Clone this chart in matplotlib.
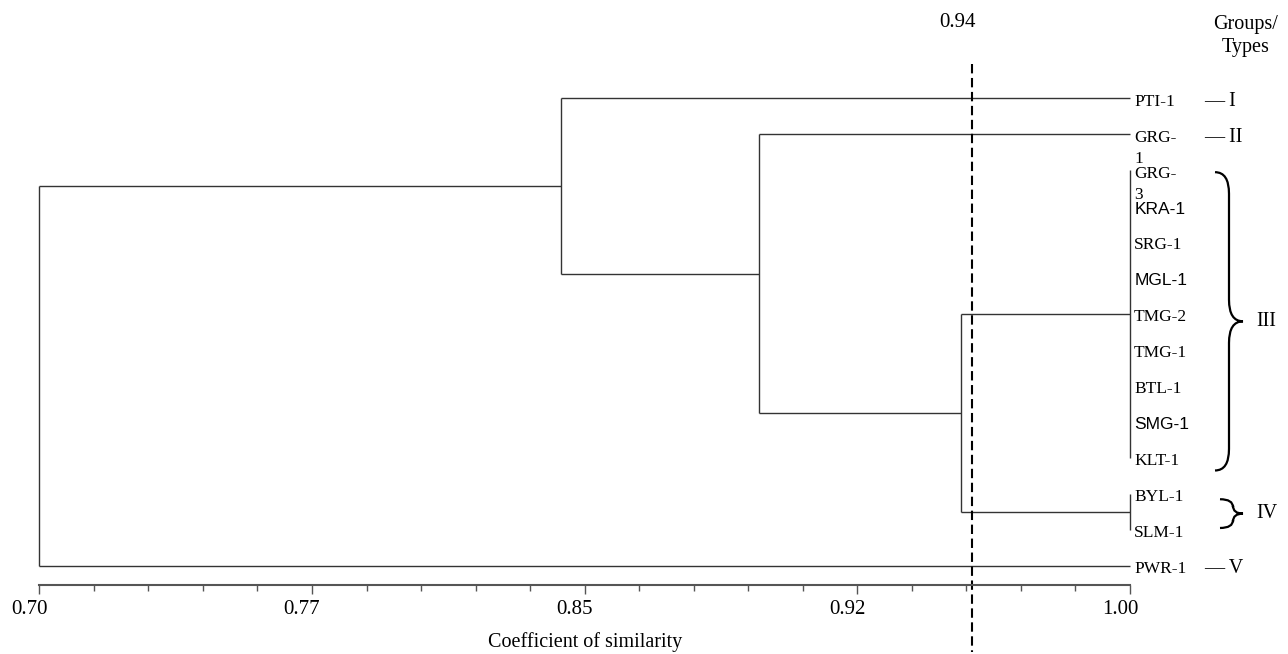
import matplotlib
matplotlib.use("Agg")
import matplotlib.pyplot as plt
import matplotlib.transforms as mtransforms
from matplotlib.path import Path
from matplotlib.patches import PathPatch
from matplotlib.ticker import FixedLocator
import numpy as np

# leaves, top to bottom
leaves = ['PTI-1', 'GRG-1', 'GRG-3', 'KRA-1', 'SRG-1', 'MGL-1', 'TMG-2', 'TMG-1',
          'BTL-1', 'SMG-1', 'KLT-1', 'BYL-1', 'SLM-1', 'PWR-1']
leaf_text = {'GRG-1': 'GRG-\n1', 'GRG-3': 'GRG-\n3'}
sans_leaves = ['KRA-1', 'MGL-1', 'SMG-1']

# merges: name, children, similarity
merge_names = ['III', 'IV', 'c1', 'c2', 'c3', 'root']
merge_children = [
    ['GRG-3', 'KRA-1', 'SRG-1', 'MGL-1', 'TMG-2', 'TMG-1', 'BTL-1', 'SMG-1', 'KLT-1'],
    ['BYL-1', 'SLM-1'],
    ['III', 'IV'],
    ['GRG-1', 'c1'],
    ['PTI-1', 'c2'],
    ['c3', 'PWR-1'],
]
merge_sim = [1.00, 1.00, 0.9535, 0.898, 0.8435, 0.70]

cutoff = 0.9565
cutoff_label = '0.94'

xticks = [0.70, 0.775, 0.85, 0.925, 1.00]
xtick_labels = ['0.70', '0.77', '0.85', '0.92', '1.00']
minor_step = 0.015

# groups/types on the right
single_groups = ['I', 'II', 'V']
single_rows = ['PTI-1', 'GRG-1', 'PWR-1']
brace_groups = ['III', 'IV']
brace_spans = [(2.05, 10.35), (11.15, 11.95)]

serif = ['Liberation Serif', 'DejaVu Serif']
sans = ['Liberation Sans', 'DejaVu Sans']
plt.rcParams['font.family'] = serif

W, H = 1288, 654
fig = plt.figure(figsize=(W / 100, H / 100), dpi=100)
x0, x1 = 39.3, 1130
y_top, y_bot = 60, 585
ax = fig.add_axes([x0 / W, 1 - y_bot / H, (x1 - x0) / W, (y_bot - y_top) / H])

row0, row_step = 98.5, 35.94
ax.set_xlim(0.70, 1.00)
ax.set_ylim((y_bot - row0) / row_step, (y_top - row0) / row_step)

def yrow(px):
    return (px - row0) / row_step

# positions
ypos = {name: float(i) for i, name in enumerate(leaves)}
xpos = {name: 1.00 for name in leaves}
lc = '#333333'
for name, kids, sim in zip(merge_names, merge_children, merge_sim):
    ys = [ypos[k] for k in kids]
    ax.plot([sim, sim], [min(ys), max(ys)], color=lc, lw=1.0,
            solid_capstyle='butt', clip_on=False)
    for k in kids:
        if xpos[k] != sim:
            ax.plot([sim, xpos[k]], [ypos[k], ypos[k]], color=lc, lw=1.0,
                    solid_capstyle='butt', clip_on=False)
    ypos[name] = float(np.mean(ys))
    xpos[name] = sim

# leaf labels
fs_leaf = 12.5
for name in leaves:
    fam = sans if name in sans_leaves else serif
    ax.annotate(leaf_text.get(name, name), (1.00, ypos[name]),
                xytext=(3, 0.42 * fs_leaf - 1.8), textcoords='offset points',
                ha='left', va='top', fontsize=fs_leaf, family=fam,
                linespacing=1.45, annotation_clip=False)

# cutoff line
ax.plot([cutoff, cutoff], [yrow(64), yrow(652)], color='black', lw=1.5,
        linestyle=(0, (4.5, 2.2)), clip_on=False)
lab_shift = mtransforms.ScaledTranslation(-14 / 100, 0, fig.dpi_scale_trans)
ax.text(cutoff, yrow(23), cutoff_label, ha='center', va='center', fontsize=15,
        clip_on=False, transform=ax.transData + lab_shift)

# axis styling
for s in ['top', 'right', 'left']:
    ax.spines[s].set_visible(False)
ax.spines['bottom'].set_color('#555555')
ax.spines['bottom'].set_linewidth(1.5)
ax.set_yticks([])
ax.set_xticks(xticks)
ax.set_xticklabels(xtick_labels, fontsize=15)
ax.xaxis.set_minor_locator(FixedLocator(np.arange(0.70, 1.0001, minor_step)))
ax.tick_params(axis='x', which='major', length=6.5, width=1.0, color='#555555', pad=4)
ax.tick_params(axis='x', which='minor', length=4.3, width=1.0, color='#555555')
shift = mtransforms.ScaledTranslation(-10 / 100, 0, fig.dpi_scale_trans)
for lab in ax.get_xticklabels():
    lab.set_transform(lab.get_transform() + shift)
fig.text(((x0 + x1) / 2) / W, 1 - 642 / H, 'Coefficient of similarity',
         ha='center', va='center', fontsize=14.5)

# groups/types header
fig.text(1246 / W, 1 - 36 / H, 'Groups/\nTypes', ha='center', va='center',
         multialignment='center', fontsize=14.5, linespacing=1.35)

# single-row groups
px_per_x = (x1 - x0) / 0.30
def xdat(px):
    return 0.70 + (px - x0) / px_per_x

for g, row in zip(single_groups, single_rows):
    ax.annotate('\u2014 ' + g, (xdat(1204), ypos[row]), xytext=(0, -2),
                textcoords='offset points', ha='left', va='center',
                fontsize=14.5, annotation_clip=False)

# braces
def brace(ya, yb, xa, xm, xt, r):
    ym = (ya + yb) / 2
    verts = [(xa, ya), (xm, ya), (xm, ya + r), (xm, ym - r), (xm, ym), (xt, ym),
             (xm, ym), (xm, ym + r), (xm, yb - r), (xm, yb), (xa, yb)]
    codes = [Path.MOVETO, Path.CURVE3, Path.CURVE3, Path.LINETO, Path.CURVE3, Path.CURVE3,
             Path.CURVE3, Path.CURVE3, Path.LINETO, Path.CURVE3, Path.CURVE3]
    return PathPatch(Path(verts, codes), fill=False, lw=1.6, edgecolor='black',
                     clip_on=False, capstyle='butt')

for g, (ya, yb) in zip(brace_groups, brace_spans):
    big = (yb - ya) > 2
    if big:
        p = brace(ya, yb, xdat(1215), xdat(1229), xdat(1243), 0.6)
    else:
        p = brace(ya, yb, xdat(1220), xdat(1233), xdat(1243), 0.22)
    ax.add_patch(p)
    ax.text(xdat(1256), (ya + yb) / 2, g, ha='left', va='center', fontsize=14.5,
            clip_on=False)

fig.savefig('out.png', dpi=100)
